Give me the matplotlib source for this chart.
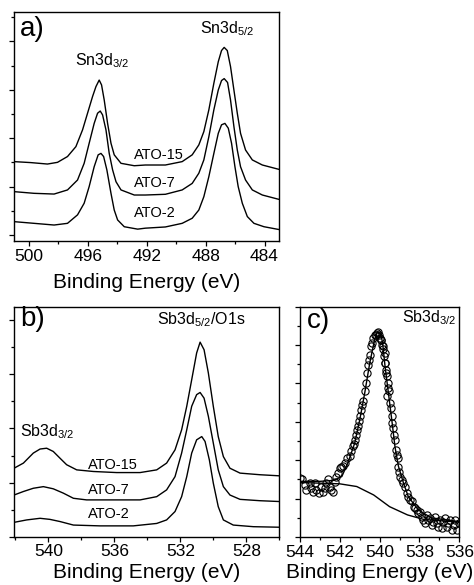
import matplotlib as mpl
mpl.use('Agg')
import matplotlib.pyplot as plt
from matplotlib.ticker import MultipleLocator, NullFormatter

plt.rcParams['font.family'] = ['Liberation Sans', 'DejaVu Sans']
plt.rcParams['mathtext.fontset'] = 'custom'
plt.rcParams['mathtext.rm'] = 'Liberation Sans'

# ---- panel a: Sn 3d spectra (binding energy eV, intensity a.u.)
a15_x = [501.0, 499.87, 498.73, 498.05, 497.37, 496.80, 496.35, 496.01, 495.67, 495.44, 495.22,
         495.06, 494.88, 494.65, 494.42, 494.20, 493.74, 492.84, 492.09, 490.73, 489.59, 488.91,
         488.46, 488.12, 487.78, 487.44, 487.14, 486.92, 486.74, 486.53, 486.31, 486.08, 485.85,
         485.63, 485.29, 484.83, 484.15, 482.9]
a15_y = [3.03, 2.99, 2.93, 3.00, 3.24, 3.65, 4.34, 5.03, 5.72, 6.13, 6.40,
         6.20, 5.58, 4.61, 3.79, 3.31, 2.96, 2.86, 2.89, 2.89, 3.03, 3.31,
         3.72, 4.27, 5.17, 6.27, 7.16, 7.62, 7.75, 7.62, 6.96, 5.99, 5.03,
         4.20, 3.51, 3.10, 2.89, 2.69]

a7_x = [501.0, 499.64, 498.28, 497.37, 496.69, 496.24, 495.90, 495.56, 495.33, 495.15, 494.99,
        494.76, 494.54, 494.31, 494.08, 493.74, 492.84, 492.09, 490.73, 489.59, 488.91, 488.46,
        488.12, 487.78, 487.44, 487.14, 486.92, 486.74, 486.51, 486.31, 486.08, 485.85, 485.63,
        485.29, 484.83, 484.15, 482.9]
a7_y = [1.79, 1.72, 1.69, 1.86, 2.27, 2.96, 3.79, 4.61, 5.03, 5.12, 4.96,
        4.34, 3.37, 2.69, 2.20, 1.86, 1.65, 1.65, 1.68, 1.86, 2.13, 2.55,
        3.10, 4.06, 5.17, 5.99, 6.38, 6.46, 6.30, 5.58, 4.48, 3.51, 2.82,
        2.27, 1.86, 1.65, 1.45]

a2_x = [501.0, 499.64, 498.28, 497.37, 496.69, 496.24, 495.90, 495.56, 495.29, 495.10, 494.92,
        494.70, 494.42, 494.20, 493.97, 493.52, 492.61, 492.09, 490.73, 489.59, 488.91, 488.46,
        488.12, 487.78, 487.44, 487.14, 486.92, 486.69, 486.46, 486.24, 486.01, 485.79, 485.51,
        485.17, 484.72, 484.04, 482.9]
a2_y = [0.55, 0.48, 0.41, 0.48, 0.83, 1.31, 2.00, 2.82, 3.31, 3.37, 3.24,
        2.69, 1.72, 1.03, 0.62, 0.34, 0.24, 0.28, 0.33, 0.48, 0.69, 1.03,
        1.58, 2.41, 3.37, 4.20, 4.55, 4.61, 4.41, 3.79, 2.82, 2.00, 1.31,
        0.76, 0.48, 0.34, 0.21]

# ---- panel b: Sb 3d / O 1s spectra
b15_x = [542.08, 541.51, 540.91, 540.50, 540.10, 539.70, 539.29, 538.89, 538.28, 537.27, 535.86,
         534.44, 533.43, 532.83, 532.32, 531.92, 531.61, 531.31, 531.01, 530.80, 530.56, 530.30,
         530.00, 529.70, 529.39, 528.99, 528.38, 527.17, 526.0]
b15_y = [2.53, 2.72, 3.09, 3.24, 3.27, 3.15, 2.90, 2.66, 2.47, 2.41, 2.37,
         2.37, 2.47, 2.72, 3.21, 3.95, 4.82, 5.80, 6.79, 7.19, 6.91, 6.05,
         4.82, 3.70, 2.96, 2.53, 2.35, 2.29, 2.25]

b7_x = [542.08, 541.51, 540.91, 540.30, 539.70, 539.09, 538.48, 537.68, 535.86, 534.44, 533.43,
        532.83, 532.32, 531.92, 531.61, 531.31, 531.01, 530.80, 530.56, 530.30, 530.00, 529.70,
        529.39, 528.99, 528.38, 527.17, 526.0]
b7_y = [1.54, 1.67, 1.79, 1.85, 1.77, 1.61, 1.42, 1.36, 1.36, 1.36, 1.48,
        1.73, 2.22, 3.09, 3.95, 4.82, 5.25, 5.33, 5.12, 4.45, 3.46, 2.47,
        1.85, 1.54, 1.38, 1.33, 1.30]

b2_x = [542.08, 541.31, 540.50, 539.90, 539.29, 538.48, 536.87, 534.85, 533.43, 532.83, 532.32,
        531.92, 531.61, 531.31, 531.01, 530.70, 530.50, 530.24, 530.00, 529.70, 529.39, 528.79,
        527.57, 526.0]
b2_y = [0.53, 0.62, 0.68, 0.64, 0.56, 0.43, 0.40, 0.40, 0.49, 0.62, 0.93,
        1.48, 2.22, 3.09, 3.58, 3.70, 3.52, 2.84, 1.98, 1.11, 0.62, 0.43,
        0.37, 0.35]

# ---- panel c: Sb3d3/2 data points, fit and background
c_pts_x = [544.0, 543.90, 543.77, 543.68, 543.51, 543.43, 543.35, 543.26, 543.18, 543.06, 542.93,
           542.84, 542.76, 542.68, 542.59, 542.51, 542.43, 542.34, 542.26, 542.17, 542.09, 542.01,
           541.92, 541.84, 541.76, 541.62, 541.50, 541.42, 541.34, 541.29, 541.22, 541.17, 541.12,
           541.09, 541.04, 541.00, 540.95, 540.88, 540.83, 540.75, 540.67, 540.62, 540.58, 540.55,
           540.50, 540.42, 540.38, 540.33, 540.25, 540.16, 540.08, 539.99, 539.91, 539.83, 539.75,
           539.71, 539.66, 539.61,
           540.15, 540.03, 539.93, 539.86, 539.81, 539.76, 539.73, 539.70, 539.64, 539.59, 539.56,
           539.53, 539.48, 539.44, 539.39, 539.36, 539.31, 539.28, 539.23, 539.19, 539.13, 539.09,
           539.06, 539.01, 538.96, 538.89, 538.81, 538.72, 538.64, 538.56, 538.47, 538.39, 538.30,
           538.22, 538.14, 538.05, 537.97, 537.89, 537.80, 537.72, 537.63, 537.55, 537.47, 537.38,
           537.30, 537.22, 537.13, 537.05, 536.96, 536.88, 536.80, 536.71, 536.63, 536.55, 536.46,
           536.38, 536.29, 536.21, 536.13, 536.04]
c_pts_y = [3.10, 3.01, 2.72, 2.45, 2.80, 2.54, 2.32, 2.80, 2.45, 2.28, 2.63,
           2.37, 2.54, 2.80, 3.01, 2.63, 2.45, 2.37, 2.89, 3.15, 3.33, 3.59,
           3.67, 3.71, 3.85, 4.11, 4.20, 4.46, 4.72, 4.86, 5.07, 5.33, 5.59,
           5.76, 6.02, 6.28, 6.63, 6.89, 7.07, 7.59, 8.03, 8.55, 8.98, 9.24,
           9.50, 9.94, 10.11, 10.37, 10.50, 10.55, 10.67, 10.37, 10.29, 9.94, 9.59,
           9.07, 8.55, 7.33,
           10.64, 10.55, 10.29, 10.03, 9.77, 9.42, 9.07, 8.72, 8.37, 8.03, 7.76,
           7.59, 6.98, 6.72, 6.28, 5.94, 5.67, 5.33, 5.07, 4.54, 4.28, 4.11,
           3.67, 3.41, 3.15, 2.98, 2.80, 2.63, 2.28, 2.11, 1.93, 1.85, 1.58,
           1.50, 1.41, 1.24, 1.32, 1.06, 0.89, 0.71, 1.15, 0.89, 0.98, 0.63,
           0.80, 1.06, 0.71, 0.54, 0.89, 0.45, 0.80, 0.98, 0.54, 0.71, 0.89,
           0.37, 0.63, 0.89, 0.37, 0.71]

c_fit_x = [544.0, 543.0, 542.3, 541.9, 541.6, 541.25, 541.0, 540.75, 540.5, 540.25, 540.1,
           539.95, 539.85, 539.73, 539.56, 539.39, 539.23, 539.06, 538.8, 538.56, 538.05, 537.4, 536.0]
c_fit_y = [2.9, 2.9, 2.95, 3.15, 3.85, 4.9, 6.1, 7.5, 9.05, 10.3, 10.7,
           10.6, 10.1, 8.9, 7.5, 6.1, 4.7, 3.7, 2.8, 2.1, 1.4, 1.0, 0.8]

c_bg_x = [544.0, 542.0, 541.15, 540.3, 539.5, 538.6, 537.8, 536.0]
c_bg_y = [2.84, 2.77, 2.63, 2.19, 1.58, 1.15, 0.92, 0.77]

W, H = 474, 585
fig = plt.figure(figsize=(W / 100, H / 100), dpi=100)

def box(l, t, r, b):
  return [l / W, 1 - b / H, (r - l) / W, (b - t) / H]

def style(ax, xlim, ylim, xmaj, xmin, pad):
  ax.set_xlim(*xlim)
  ax.set_ylim(*ylim)
  ax.xaxis.set_major_locator(MultipleLocator(xmaj))
  ax.xaxis.set_minor_locator(MultipleLocator(xmin))
  ax.yaxis.set_major_locator(MultipleLocator(2))
  ax.yaxis.set_minor_locator(MultipleLocator(1))
  ax.yaxis.set_major_formatter(NullFormatter())
  ax.tick_params(which='both', direction='out', top=False, right=False, width=0.9)
  ax.tick_params(which='major', length=3.5, labelsize=12.5, pad=2)
  ax.tick_params(which='minor', length=2)
  for s in ax.spines.values():
    s.set_linewidth(1.0)
  ax.set_xlabel("Binding Energy (eV)", fontsize=15, labelpad=pad)

lw = 1.0
axa = fig.add_axes(box(14, 12.3, 279.3, 241))
for xs, ys in [(a15_x, a15_y), (a7_x, a7_y), (a2_x, a2_y)]:
  axa.plot(xs, ys, color='black', lw=lw)
style(axa, (501, 483), (-0.25, 9.2), 4, 2, 6.5)
axa.text(500.6, 8.5, "a)", fontsize=20, ha='left', va='center')
axa.text(496.85, 7.0, r"Sn3d$_{\mathregular{3/2}}$", fontsize=11.5, ha='left', va='baseline')
axa.text(488.35, 8.35, r"Sn3d$_{\mathregular{5/2}}$", fontsize=11.5, ha='left', va='baseline')
for lab, yy in [("ATO-15", 3.31), ("ATO-7", 2.15), ("ATO-2", 0.91)]:
  axa.text(492.84, yy, lab, fontsize=10.5, ha='left', va='center')

axb = fig.add_axes(box(14, 306.7, 279.3, 536.7))
for xs, ys in [(b15_x, b15_y), (b7_x, b7_y), (b2_x, b2_y)]:
  axb.plot(xs, ys, color='black', lw=lw)
style(axb, (542.08, 526), (0, 8.5), 4, 2, 2.5)
axb.text(541.72, 8.03, "b)", fontsize=20, ha='left', va='center')
axb.text(533.41, 7.84, r"Sb3d$_{\mathregular{5/2}}$/O1s", fontsize=11.5, ha='left', va='baseline')
axb.text(541.72, 3.70, r"Sb3d$_{\mathregular{3/2}}$", fontsize=11.5, ha='left', va='baseline')
for lab, yy in [("ATO-15", 2.66), ("ATO-7", 1.73), ("ATO-2", 0.84)]:
  axb.text(537.59, yy, lab, fontsize=10.5, ha='left', va='center')

axc = fig.add_axes(box(300, 306.7, 459.3, 537))
axc.plot(c_pts_x, c_pts_y, ls='none', marker='o', ms=5.2, mfc='none', mec='black', mew=0.8)
axc.plot(c_fit_x, c_fit_y, color='black', lw=lw)
axc.plot(c_bg_x, c_bg_y, color='black', lw=lw)
style(axc, (544, 536), (0, 12), 2, 1, 2.5)
axc.text(543.65, 11.28, "c)", fontsize=20, ha='left', va='center')
axc.text(538.87, 11.2, r"Sb3d$_{\mathregular{3/2}}$", fontsize=11.5, ha='left', va='baseline')

plt.savefig("out.png", dpi=100)
